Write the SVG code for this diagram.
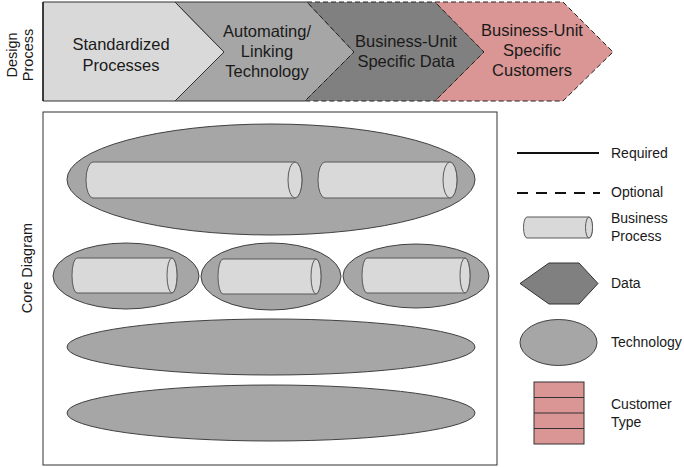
<svg xmlns="http://www.w3.org/2000/svg" width="684" height="467" viewBox="0 0 684 467">
<style>
text{font-family:"Liberation Sans",Arial,sans-serif;fill:#1a1a1a}
.t{font-size:16.5px;text-anchor:middle}
.v{font-size:14.5px;text-anchor:middle}
.l{font-size:14px}
.tech{fill:#a6a6a6;stroke:#404040;stroke-width:1}
.cyl{fill:#d9d9d9;stroke:#595959;stroke-width:1}
.frame{fill:#fff;stroke:#333;stroke-width:1}
</style>
<rect width="684" height="467" fill="#fff"/>
<g id="design-process">
<g id="step1"><polygon points="43,2 175,2 224,52 175,101 43,101" fill="#d9d9d9" stroke="#333" stroke-width="1"/>
<text class="t" x="121" y="50">Standardized</text><text class="t" x="121" y="71">Processes</text></g>
<g id="step2"><polygon points="175,2 307,2 354,52 305,101 175,101 224,52" fill="#a6a6a6" stroke="#333" stroke-width="1"/>
<text class="t" x="267" y="37">Automating/</text><text class="t" x="267" y="57">Linking</text><text class="t" x="267" y="77">Technology</text></g>
<g id="step3"><polygon points="307,2 435,2 484,52 435,101 305,101 354,52" fill="#808080" stroke="#222" stroke-width="1" stroke-dasharray="5,3"/>
<text class="t" x="406" y="47">Business-Unit</text><text class="t" x="406" y="67">Specific Data</text></g>
<g id="step4"><polygon points="435,2 563,2 613,52 563,101 435,101 484,52" fill="#d99694" stroke="#222" stroke-width="1" stroke-dasharray="5,3"/>
<text class="t" x="532" y="36">Business-Unit</text><text class="t" x="532" y="56">Specific</text><text class="t" x="532" y="76">Customers</text></g>
<line x1="43" y1="2" x2="43" y2="101" stroke="#222" stroke-width="1.5"/>
<text class="v" transform="translate(17,55) rotate(-90)">Design</text>
<text class="v" transform="translate(33,55) rotate(-90)">Process</text>
</g>
<g id="core-diagram">
<rect class="frame" x="43" y="112" width="454" height="353"/>
<text class="v" transform="translate(32,268) rotate(-90)">Core Diagram</text>
<g id="tech1"><ellipse class="tech" cx="271" cy="179.5" rx="204" ry="55.5"/>
<g id="bp1"><path class="cyl" d="M93,162 L295,162 A7,18 0 0 1 295,198 L93,198 A7,18 0 0 1 93,162 Z"/><ellipse class="cyl" cx="295" cy="180" rx="7" ry="18"/></g>
<g id="bp2"><path class="cyl" d="M325,162 L450,162 A7,18 0 0 1 450,198 L325,198 A7,18 0 0 1 325,162 Z"/><ellipse class="cyl" cx="450" cy="180" rx="7" ry="18"/></g>
</g>
<g id="tech2"><ellipse class="tech" cx="126" cy="276" rx="73" ry="33"/>
<g id="bp3"><path class="cyl" d="M77,258 L172,258 A5,17.5 0 0 1 172,293 L77,293 A5,17.5 0 0 1 77,258 Z"/><ellipse class="cyl" cx="172" cy="275.5" rx="5" ry="17.5"/></g></g>
<g id="tech3"><ellipse class="tech" cx="271" cy="276.5" rx="70" ry="33.5"/>
<g id="bp4"><path class="cyl" d="M223,259 L316,259 A5,17.5 0 0 1 316,294 L223,294 A5,17.5 0 0 1 223,259 Z"/><ellipse class="cyl" cx="316" cy="276.5" rx="5" ry="17.5"/></g></g>
<g id="tech4"><ellipse class="tech" cx="416" cy="276" rx="73" ry="32"/>
<g id="bp5"><path class="cyl" d="M367,258 L465,258 A5,17.5 0 0 1 465,293 L367,293 A5,17.5 0 0 1 367,258 Z"/><ellipse class="cyl" cx="465" cy="275.5" rx="5" ry="17.5"/></g></g>
<g id="tech5"><ellipse class="tech" cx="271" cy="347" rx="204" ry="28"/></g>
<g id="tech6"><ellipse class="tech" cx="271" cy="413" rx="204" ry="28"/></g>
</g>
<g id="legend">
<g id="lg-required"><line x1="517" y1="153" x2="599" y2="153" stroke="#111" stroke-width="2"/><text class="l" x="611" y="158">Required</text></g>
<g id="lg-optional"><line x1="517" y1="193" x2="600" y2="193" stroke="#111" stroke-width="2" stroke-dasharray="11,8"/><text class="l" x="611" y="197">Optional</text></g>
<g id="lg-bp"><path class="cyl" d="M527,217 L589,217 A3.5,10.5 0 0 1 589,238 L527,238 A3.5,10.5 0 0 1 527,217 Z"/><ellipse class="cyl" cx="589" cy="227.5" rx="3.5" ry="10.5"/>
<text class="l" x="611" y="223">Business</text><text class="l" x="611" y="241">Process</text></g>
<g id="lg-data"><polygon points="549,263 579,263 598,283.5 579,304 549,304 520,283.5" fill="#808080" stroke="#333" stroke-width="1"/><text class="l" x="611" y="288">Data</text></g>
<g id="lg-tech"><ellipse class="tech" cx="558.5" cy="342.5" rx="38.5" ry="23"/><text class="l" x="611" y="347">Technology</text></g>
<g id="lg-cust"><rect x="534" y="382" width="50" height="62" fill="#d99694" stroke="#333" stroke-width="1"/>
<line x1="534" y1="397.5" x2="584" y2="397.5" stroke="#333"/><line x1="534" y1="413" x2="584" y2="413" stroke="#333"/><line x1="534" y1="428.5" x2="584" y2="428.5" stroke="#333"/>
<text class="l" x="611" y="409">Customer</text><text class="l" x="611" y="427">Type</text></g>
</g>
</svg>
